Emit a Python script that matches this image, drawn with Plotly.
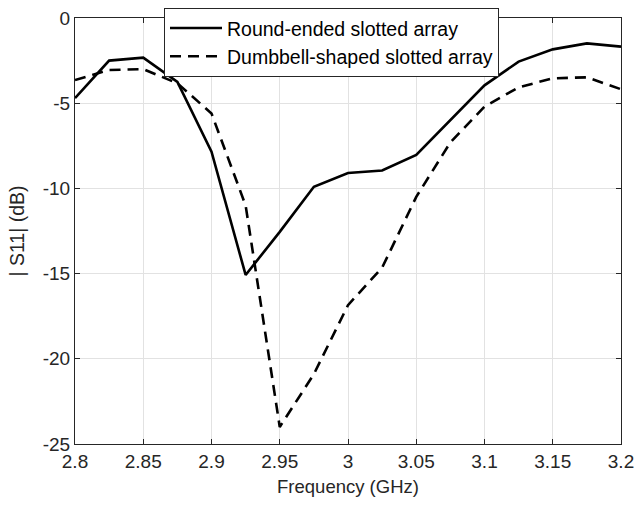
import plotly.graph_objects as go

freq = [2.8, 2.825, 2.85, 2.875, 2.9, 2.925, 2.95, 2.975, 3.0, 3.025, 3.05,
        3.075, 3.1, 3.125, 3.15, 3.175, 3.2]
round_ended = [-4.7, -2.5, -2.33, -3.75, -7.85, -15.08, -12.55, -9.9, -9.1, -8.95,
               -8.04, -6.0, -3.95, -2.56, -1.84, -1.49, -1.68]
dumbbell = [-3.64, -3.05, -3.0, -3.83, -5.6, -11.0, -24.0, -20.9, -16.85, -14.65,
            -10.5, -7.3, -5.2, -4.07, -3.54, -3.48, -4.18]

x_ticks = [2.8, 2.85, 2.9, 2.95, 3.0, 3.05, 3.1, 3.15, 3.2]
x_tick_labels = ["2.8", "2.85", "2.9", "2.95", "3", "3.05", "3.1", "3.15", "3.2"]
y_ticks = [-25, -20, -15, -10, -5, 0]
y_tick_labels = ["-25", "-20", "-15", "-10", "-5", "0"]

FONT = "Liberation Sans, Arial, Helvetica, sans-serif"
AX = "#262626"

fig = go.Figure()
fig.add_trace(go.Scatter(x=freq, y=round_ended, mode="lines",
                         name="Round-ended slotted array",
                         line=dict(color="black", width=2.6)))
fig.add_trace(go.Scatter(x=freq, y=dumbbell, mode="lines",
                         name="Dumbbell-shaped slotted array",
                         line=dict(color="black", width=2.6, dash="11px,7px")))

axis_common = dict(showline=True, linecolor=AX, linewidth=1, mirror="ticks",
                   ticks="inside", ticklen=5, tickcolor=AX,
                   showgrid=True, gridcolor="#e2e2e2", gridwidth=1,
                   zeroline=False, automargin=False, ticklabeloverflow="allow",
                   tickfont=dict(family=FONT, size=19, color=AX))

fig.update_xaxes(range=[2.8, 3.2], tickvals=x_ticks, ticktext=x_tick_labels,
                 title=dict(text="Frequency (GHz)", font=dict(family=FONT, size=18.5, color=AX),
                            standoff=9),
                 **axis_common)
fig.update_yaxes(range=[-25, 0], tickvals=y_ticks, ticktext=y_tick_labels,
                 title=dict(text="| S11| (dB)", font=dict(family=FONT, size=19.5, color=AX),
                            standoff=12),
                 **axis_common)

fig.update_layout(
    width=638, height=505,
    margin=dict(l=75, r=17, t=18, b=61, autoexpand=False),
    paper_bgcolor="white", plot_bgcolor="white",
    showlegend=True,
    legend=dict(x=0.163, y=1.024, xanchor="left", yanchor="top",
                bgcolor="white", bordercolor=AX, borderwidth=1,
                font=dict(family=FONT, size=19.5, color="black"),
                tracegroupgap=0, itemwidth=52),
)

fig.write_html(
    "out.html",
    config={"displayModeBar": False},
    post_script="document.body.style.margin='0';document.body.style.overflow='hidden';",
)
